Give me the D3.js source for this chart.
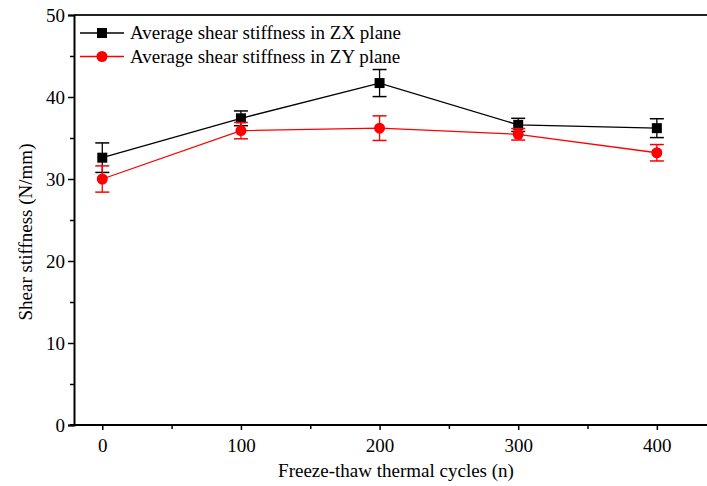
<!DOCTYPE html>
<html>
<head>
<meta charset="utf-8">
<script src="https://cdn.jsdelivr.net/npm/d3@7"></script>
<style>
  body { margin: 0; background: #fff; }
  svg text { font-family: "Liberation Serif", "Times New Roman", serif; fill: #000; }
</style>
</head>
<body>
<script>
// data
var cycles = [0, 100, 200, 300, 400];
var zxMean = [32.6, 37.4, 41.7, 36.6, 36.2];
var zxErr  = [1.8, 0.9, 1.65, 0.8, 1.15];
var zyMean = [30.0, 35.9, 36.2, 35.45, 33.2];
var zyErr  = [1.6, 1.0, 1.5, 0.7, 1.0];
var yTicks = [0, 10, 20, 30, 40, 50];
var xTicks = [0, 100, 200, 300, 400];

var series = [
  {name: "Average shear stiffness in ZX plane", color: "#000", shape: "square", mean: zxMean, err: zxErr},
  {name: "Average shear stiffness in ZY plane", color: "#ff0000", shape: "circle", mean: zyMean, err: zyErr}
];

var W = 707, H = 486;
var margin = {top: 15, right: -6, bottom: 61, left: 74};
var width = W - margin.left - margin.right,
    height = H - margin.top - margin.bottom;

var x = d3.scaleLinear().domain([-20.4, 440.5]).range([0, width]);
var y = d3.scaleLinear().domain([0, 50]).range([height, 0]);

var svg = d3.select("body").append("svg")
    .attr("width", W).attr("height", H);

var g = svg.append("g")
    .attr("transform", "translate(" + margin.left + "," + margin.top + ")");

// top frame line
g.append("line")
    .attr("x1", 0).attr("x2", width + 10)
    .attr("y1", 0).attr("y2", 0)
    .style("stroke", "#222").style("stroke-width", 2);

// y axis with minor ticks
g.append("g")
    .call(d3.axisLeft(y).tickValues(d3.range(5, 50, 10)).tickSize(4).tickFormat(""))
    .call(function (s) { s.select(".domain").remove(); });
var yAxis = g.append("g")
    .call(d3.axisLeft(y).tickValues(yTicks).tickSize(6).tickPadding(3));
yAxis.select(".domain").style("stroke-width", 2);
yAxis.selectAll("text").style("font-size", "19px");

// x axis with minor ticks
g.append("g")
    .attr("transform", "translate(0," + height + ")")
    .call(d3.axisBottom(x).tickValues(d3.range(50, 450, 100)).tickSize(4).tickFormat(""))
    .call(function (s) { s.select(".domain").remove(); });
var xAxis = g.append("g")
    .attr("transform", "translate(0," + height + ")")
    .call(d3.axisBottom(x).tickValues(xTicks).tickSize(5).tickPadding(9).tickSizeOuter(0));
xAxis.select(".domain").attr("d", "M" + (-4) + ",0H" + (width + 10)).style("stroke-width", 2);
xAxis.selectAll("text").style("font-size", "19px");
g.selectAll(".tick line").style("stroke-width", 1.5);

// axis titles
svg.append("text")
    .attr("x", 396).attr("y", 477)
    .attr("text-anchor", "middle")
    .style("font-size", "19px")
    .text("Freeze-thaw thermal cycles (n)");
svg.append("text")
    .attr("transform", "translate(32,232) rotate(-90)")
    .attr("text-anchor", "middle")
    .style("font-size", "19px")
    .text("Shear stiffness (N/mm)");

var line = d3.line()
    .x(function (d) { return x(d.c); })
    .y(function (d) { return y(d.v); });

series.forEach(function (s) {
    var pts = cycles.map(function (c, i) { return {c: c, v: s.mean[i], e: s.err[i]}; });
    var sg = g.append("g");

    sg.append("path")
        .datum(pts)
        .attr("d", line)
        .style("fill", "none")
        .style("stroke", s.color)
        .style("stroke-width", 1.3);

    var eb = sg.selectAll(".err")
        .data(pts)
        .enter().append("g");
    eb.append("line")
        .attr("x1", function (d) { return x(d.c); })
        .attr("x2", function (d) { return x(d.c); })
        .attr("y1", function (d) { return y(d.v + d.e); })
        .attr("y2", function (d) { return y(d.v - d.e); })
        .style("stroke", s.color).style("stroke-width", 1.3);
    [1, -1].forEach(function (sign) {
        eb.append("line")
            .attr("x1", function (d) { return x(d.c) - 7; })
            .attr("x2", function (d) { return x(d.c) + 7; })
            .attr("y1", function (d) { return y(d.v + sign * d.e); })
            .attr("y2", function (d) { return y(d.v + sign * d.e); })
            .style("stroke", s.color).style("stroke-width", 1.5);
    });

    if (s.shape == "square") {
        sg.selectAll(".mk")
            .data(pts)
            .enter().append("rect")
            .attr("x", function (d) { return x(d.c) - 5; })
            .attr("y", function (d) { return y(d.v) - 5; })
            .attr("width", 10).attr("height", 10)
            .style("fill", s.color);
    } else {
        sg.selectAll(".mk")
            .data(pts)
            .enter().append("circle")
            .attr("cx", function (d) { return x(d.c); })
            .attr("cy", function (d) { return y(d.v); })
            .attr("r", 5.5)
            .style("fill", s.color);
    }
});

// legend
var legend = svg.append("g");
series.forEach(function (s, i) {
    var ly = 33 + i * 23.5;
    legend.append("line")
        .attr("x1", 80).attr("x2", 124)
        .attr("y1", ly).attr("y2", ly)
        .style("stroke", s.color).style("stroke-width", 1.3);
    if (s.shape == "square") {
        legend.append("rect")
            .attr("x", 97).attr("y", ly - 5)
            .attr("width", 10).attr("height", 10)
            .style("fill", s.color);
    } else {
        legend.append("circle")
            .attr("cx", 102).attr("cy", ly).attr("r", 5.5)
            .style("fill", s.color);
    }
    legend.append("text")
        .attr("x", 130).attr("y", ly + 6)
        .style("font-size", "19px")
        .text(s.name);
});
</script>
</body>
</html>
